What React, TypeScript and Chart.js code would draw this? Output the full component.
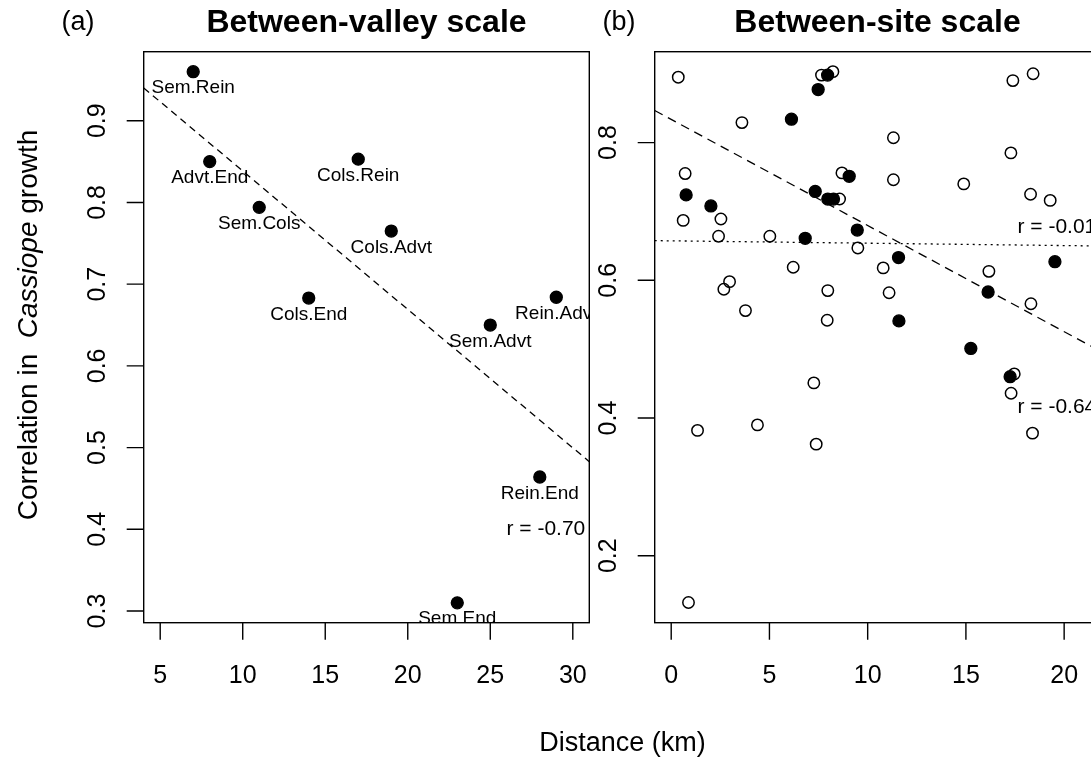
import React, { useEffect, useRef } from "react";
import { Chart, registerables } from "chart.js";

Chart.register(...registerables);

// ---------- DATA ----------
const valleyPairs = ["Sem.Rein", "Advt.End", "Cols.Rein", "Sem.Cols", "Cols.Advt", "Cols.End", "Rein.Advt", "Sem.Advt", "Rein.End", "Sem.End"];
const valleyDistance = [7, 8, 17, 11, 19, 14, 29, 25, 28, 23];
const valleyCorrelation = [0.96, 0.85, 0.853, 0.794, 0.765, 0.683, 0.684, 0.65, 0.464, 0.31];

const siteFilledDistance = [7.96, 7.48, 6.12, 9.06, 0.76, 7.33, 7.97, 8.26, 2.02, 9.47, 6.82, 11.57, 19.53, 16.13, 11.59, 15.25, 17.25];
const siteFilledCorrelation = [0.898, 0.877, 0.834, 0.751, 0.724, 0.729, 0.718, 0.718, 0.708, 0.673, 0.661, 0.633, 0.627, 0.583, 0.541, 0.501, 0.46];

const siteOpenDistance = [0.36, 7.65, 8.23, 17.39, 18.42, 3.6, 11.31, 17.29, 0.71, 8.69, 11.31, 14.89, 18.29, 19.29, 8.57, 0.61, 2.53, 2.41, 5.02, 9.5, 6.21, 10.79, 16.17, 2.97, 2.68, 7.97, 11.09, 18.31, 3.78, 7.94, 17.46, 17.3, 7.26, 1.34, 4.39, 7.38, 18.39, 0.88];
const siteOpenCorrelation = [0.895, 0.898, 0.903, 0.89, 0.9, 0.829, 0.807, 0.785, 0.755, 0.756, 0.746, 0.74, 0.725, 0.716, 0.718, 0.687, 0.689, 0.664, 0.664, 0.647, 0.619, 0.618, 0.613, 0.598, 0.587, 0.585, 0.582, 0.566, 0.556, 0.542, 0.464, 0.436, 0.451, 0.382, 0.39, 0.362, 0.378, 0.132];

// fitted line of the open points (ends of the axis range)
const siteOpenFitDistance = [-0.84, 21.84];
const siteOpenFitCorrelation = [0.6576, 0.6498];

const valleyXTicks = ["5", "10", "15", "20", "25", "30"];
const valleyYTicks = ["0.3", "0.4", "0.5", "0.6", "0.7", "0.8", "0.9"];
const siteXTicks = ["0", "5", "10", "15", "20"];
const siteYTicks = ["0.2", "0.4", "0.6", "0.8"];

const valleyR = ["r = -0.70"];
const valleyRY = [0.4];
const siteR = ["r = -0.01", "r = -0.64"];
const siteRY = [0.6775, 0.416];

// ---------- HELPERS ----------
const FONT = '"Liberation Sans", Arial, Helvetica, sans-serif';
const W = 1091;
const H = 759;
const BOX_TOP = 51.7;
const BOX_BOTTOM = 622.7;

function linearFit(xs: number[], ys: number[]) {
  const n = xs.length;
  const mx = xs.reduce((a, b) => a + b, 0) / n;
  const my = ys.reduce((a, b) => a + b, 0) / n;
  let sxy = 0;
  let sxx = 0;
  for (let i = 0; i < n; i++) {
    sxy += (xs[i] - mx) * (ys[i] - my);
    sxx += (xs[i] - mx) * (xs[i] - mx);
  }
  const slope = sxy / sxx;
  return { slope, intercept: my - slope * mx };
}

function fitPoints(xs: number[], ys: number[], x0: number, x1: number) {
  const f = linearFit(xs, ys);
  return [
    { x: x0, y: f.intercept + f.slope * x0 },
    { x: x1, y: f.intercept + f.slope * x1 },
  ];
}

function zip(xs: number[], ys: number[]) {
  return xs.map((x, i) => ({ x, y: ys[i] }));
}

type PanelOpts = {
  tag: string;
  tagOffset: number;
  title: string;
  xTicks: string[];
  yTicks: string[];
  rTexts: string[];
  rY: number[];
  pointLabels?: string[];
  yLabel?: boolean;
  xLabel?: boolean;
};

function panelPlugin(o: PanelOpts) {
  return {
    id: "rPanel",
    afterDatasetsDraw(chart: any) {
      if (!o.pointLabels) return;
      const { ctx, chartArea: ca } = chart;
      ctx.save();
      ctx.beginPath();
      ctx.rect(ca.left, ca.top, ca.right - ca.left, ca.bottom - ca.top);
      ctx.clip();
      ctx.fillStyle = "#000";
      ctx.font = `19px ${FONT}`;
      ctx.textAlign = "center";
      ctx.textBaseline = "alphabetic";
      const meta = chart.getDatasetMeta(0);
      o.pointLabels.forEach((lab, i) => {
        const el = meta.data[i];
        if (!el) return;
        ctx.fillText(lab, el.x, el.y + 21.5);
      });
      ctx.restore();
    },
    afterDraw(chart: any) {
      const { ctx, chartArea: ca, scales } = chart;
      const xs = scales.x;
      const ys = scales.y;
      ctx.save();
      ctx.strokeStyle = "#000";
      ctx.fillStyle = "#000";
      ctx.lineWidth = 1.4;
      // box
      ctx.strokeRect(ca.left, ca.top, ca.right - ca.left, ca.bottom - ca.top);
      // ticks
      ctx.beginPath();
      o.xTicks.forEach((t) => {
        const px = xs.getPixelForValue(parseFloat(t));
        ctx.moveTo(px, ca.bottom);
        ctx.lineTo(px, ca.bottom + 17);
      });
      o.yTicks.forEach((t) => {
        const py = ys.getPixelForValue(parseFloat(t));
        ctx.moveTo(ca.left, py);
        ctx.lineTo(ca.left - 17, py);
      });
      ctx.stroke();
      // tick labels
      ctx.font = `25px ${FONT}`;
      ctx.textAlign = "center";
      ctx.textBaseline = "alphabetic";
      o.xTicks.forEach((t) => {
        const px = xs.getPixelForValue(parseFloat(t));
        ctx.fillText(t, px, ca.bottom + 60.6);
      });
      o.yTicks.forEach((t) => {
        const py = ys.getPixelForValue(parseFloat(t));
        ctx.save();
        ctx.translate(ca.left - 38.7, py);
        ctx.rotate(-Math.PI / 2);
        ctx.fillText(t, 0, 0);
        ctx.restore();
      });
      // r texts
      ctx.font = `21px ${FONT}`;
      ctx.textAlign = "right";
      ctx.textBaseline = "middle";
      o.rTexts.forEach((t, i) => {
        ctx.fillText(t, ca.right - 4, ys.getPixelForValue(o.rY[i]));
      });
      // title & tag
      ctx.textBaseline = "alphabetic";
      ctx.textAlign = "center";
      ctx.font = `bold 32px ${FONT}`;
      ctx.fillText(o.title, (ca.left + ca.right) / 2, 31.5);
      ctx.font = `27px ${FONT}`;
      ctx.fillText(o.tag, ca.left + o.tagOffset, 30);
      // x label
      if (o.xLabel) {
        ctx.font = `27px ${FONT}`;
        ctx.textAlign = "center";
        ctx.fillText("Distance (km)", 622.5, 751);
      }
      // y label with italic part
      if (o.yLabel) {
        const parts = [
          { t: "Correlation in  ", f: `28px ${FONT}` },
          { t: "Cassiope", f: `italic 28px ${FONT}` },
          { t: " growth", f: `28px ${FONT}` },
        ];
        let total = 0;
        const widths = parts.map((p) => {
          ctx.font = p.f;
          const w = ctx.measureText(p.t).width;
          total += w;
          return w;
        });
        ctx.save();
        ctx.translate(37, 325);
        ctx.rotate(-Math.PI / 2);
        ctx.textAlign = "left";
        let cx = -total / 2;
        parts.forEach((p, i) => {
          ctx.font = p.f;
          ctx.fillText(p.t, cx, 0);
          cx += widths[i];
        });
        ctx.restore();
      }
      ctx.restore();
    },
  };
}

function usePanel(ref: React.RefObject<HTMLCanvasElement>, build: () => any) {
  useEffect(() => {
    if (!ref.current) return;
    const chart = new Chart(ref.current, build());
    return () => chart.destroy();
  }, []);
}

const filledStyle = {
  pointRadius: 6,
  pointBorderWidth: 1.3,
  pointBackgroundColor: "#000",
  pointBorderColor: "#000",
  showLine: false,
};
const openStyle = {
  pointRadius: 5.7,
  pointBorderWidth: 1.5,
  pointBackgroundColor: "rgba(0,0,0,0)",
  pointBorderColor: "#000",
  showLine: false,
};
const lineStyle = (dash: number[]) => ({
  showLine: true,
  pointRadius: 0,
  borderColor: "#000",
  borderWidth: 1.3,
  borderDash: dash,
  fill: false,
});

function baseOptions(xMin: number, xMax: number, yMin: number, yMax: number, padding: any) {
  return {
    responsive: false,
    animation: false,
    devicePixelRatio: 1,
    events: [],
    layout: { padding },
    plugins: { legend: { display: false }, tooltip: { enabled: false } },
    scales: {
      x: { type: "linear", min: xMin, max: xMax, display: false },
      y: { type: "linear", min: yMin, max: yMax, display: false },
    },
  };
}

export default function App() {
  const refA = useRef<HTMLCanvasElement>(null);
  const refB = useRef<HTMLCanvasElement>(null);

  usePanel(refA, () => {
    const xMin = 4, xMax = 31;
    return {
      type: "scatter",
      data: {
        datasets: [
          { data: zip(valleyDistance, valleyCorrelation), ...filledStyle, order: 0 },
          { data: fitPoints(valleyDistance, valleyCorrelation, xMin, xMax), ...lineStyle([7, 5]), order: 1 },
        ],
      },
      options: baseOptions(xMin, xMax, 0.2857, 0.9845, {
        left: 143.7,
        right: W - 589.3,
        top: BOX_TOP,
        bottom: H - BOX_BOTTOM,
      }),
      plugins: [
        panelPlugin({
          tag: "(a)",
          tagOffset: -65.7,
          title: "Between-valley scale",
          xTicks: valleyXTicks,
          yTicks: valleyYTicks,
          rTexts: valleyR,
          rY: valleyRY,
          pointLabels: valleyPairs,
          yLabel: true,
          xLabel: true,
        }),
      ],
    };
  });

  usePanel(refB, () => {
    const xMin = -0.84, xMax = 21.84;
    return {
      type: "scatter",
      data: {
        datasets: [
          { data: zip(siteFilledDistance, siteFilledCorrelation), ...filledStyle, order: 0 },
          { data: zip(siteOpenDistance, siteOpenCorrelation), ...openStyle, order: 1 },
          { data: fitPoints(siteFilledDistance, siteFilledCorrelation, xMin, xMax), ...lineStyle([9, 6]), order: 2 },
          { data: zip(siteOpenFitDistance, siteOpenFitCorrelation), ...lineStyle([2, 4]), order: 3 },
        ],
      },
      options: baseOptions(xMin, xMax, 0.1027, 0.932, {
        left: 654.7,
        right: 1110 - 1100.3,
        top: BOX_TOP,
        bottom: H - BOX_BOTTOM,
      }),
      plugins: [
        panelPlugin({
          tag: "(b)",
          tagOffset: -35.7,
          title: "Between-site scale",
          xTicks: siteXTicks,
          yTicks: siteYTicks,
          rTexts: siteR,
          rY: siteRY,
        }),
      ],
    };
  });

  return (
    <div
      style={{
        position: "fixed",
        left: 0,
        top: 0,
        width: W,
        height: H,
        overflow: "hidden",
        background: "#fff",
      }}
    >
      <canvas ref={refA} width={W} height={H} style={{ position: "absolute", left: 0, top: 0 }} />
      <canvas ref={refB} width={1110} height={H} style={{ position: "absolute", left: 0, top: 0 }} />
    </div>
  );
}
